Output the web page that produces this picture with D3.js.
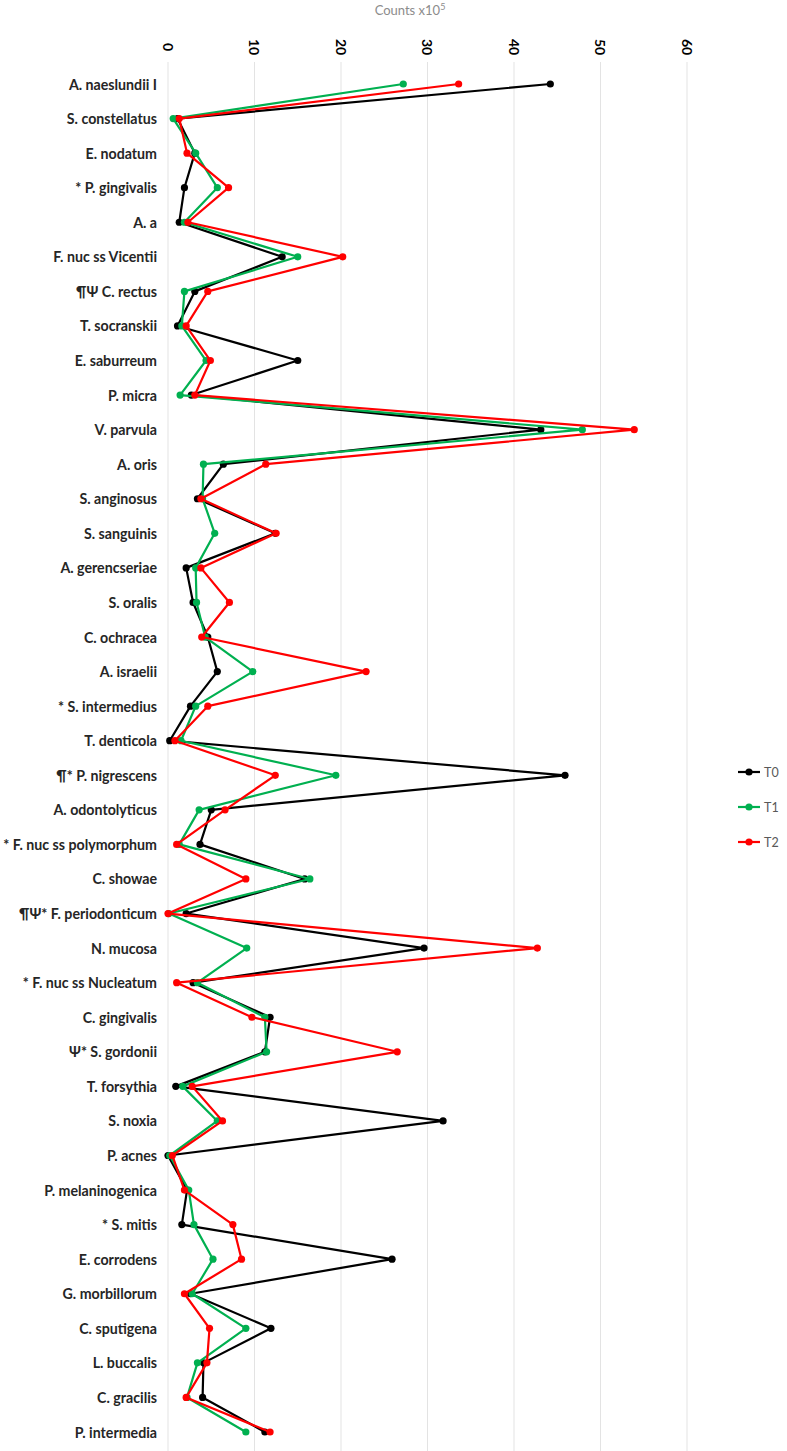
<!DOCTYPE html>
<html><head><meta charset="utf-8">
<script src="https://cdn.jsdelivr.net/npm/d3@7"></script>
<style>body{margin:0;background:#fff}</style>
</head><body>
<svg id="c" width="787" height="1451"></svg>
<script>
const categories = ["A. naeslundii I","S. constellatus","E. nodatum","* P. gingivalis","A. a","F. nuc ss Vicentii","¶Ψ C. rectus","T. socranskii","E. saburreum","P. micra","V. parvula","A. oris","S. anginosus","S. sanguinis","A. gerencseriae","S. oralis","C. ochracea","A. israelii","* S. intermedius","T. denticola","¶* P. nigrescens","A. odontolyticus","* F. nuc ss polymorphum","C. showae","¶Ψ* F. periodonticum","N. mucosa","* F. nuc ss Nucleatum","C. gingivalis","Ψ* S. gordonii","T. forsythia","S. noxia","P. acnes","P. melaninogenica","* S. mitis","E. corrodens","G. morbillorum","C. sputigena","L. buccalis","C. gracilis","P. intermedia"];
const T0 = [44.2,1.1,3.1,1.9,1.3,13.2,3.1,1.1,15.0,2.7,43.1,6.4,3.4,12.4,2.1,2.9,4.6,5.7,2.6,0.2,45.9,5.0,3.7,15.8,2.1,29.6,2.9,11.8,11.2,0.9,31.8,0.0,2.2,1.6,25.9,2.6,11.9,4.1,4.0,11.2];
const T1 = [27.2,0.6,3.2,5.7,1.9,15.0,1.9,1.6,4.4,1.4,47.9,4.1,4.0,5.4,3.2,3.3,4.3,9.8,3.2,1.5,19.4,3.6,1.3,16.4,0.1,9.1,3.4,11.2,11.4,1.7,5.7,0.2,2.4,3.0,5.2,2.8,9.0,3.4,2.2,9.0];
const T2 = [33.6,1.3,2.2,7.0,2.3,20.2,4.6,2.1,4.9,3.1,53.9,11.3,3.8,12.5,3.8,7.1,3.9,22.9,4.6,0.8,12.4,6.6,1.0,9.0,0.0,42.7,1.0,9.7,26.5,2.8,6.3,0.5,1.9,7.5,8.5,1.9,4.8,4.5,2.1,11.8];
const seriesNames = ["T0","T1","T2"];
const seriesColors = ["#000000","#00b050","#ff0000"];
const xTicks = [0,10,20,30,40,50,60];
const axisTitle = "Counts x10";

const svg = d3.select("#c");
const x = d3.scaleLinear().domain([0,60]).range([168,687]);
const y = d3.scalePoint().domain(categories).range([84,1432]);
const FONT = "Lato, 'Open Sans', sans-serif";

svg.append("g").selectAll("line").data(xTicks).join("line")
  .attr("x1",d=>x(d)).attr("x2",d=>x(d)).attr("y1",62).attr("y2",1451)
  .attr("stroke","#e3e3e3").attr("stroke-width",1);

svg.append("g").selectAll("text").data(xTicks).join("text")
  .attr("transform",d=>`translate(${x(d)},47) rotate(90)`)
  .attr("text-anchor","middle").attr("dominant-baseline","central")
  .attr("font-family",FONT).attr("font-weight","bold").attr("font-size",14)
  .attr("fill","#000").text(d=>d);

const t = svg.append("text").attr("x",410).attr("y",15).attr("text-anchor","middle")
  .attr("font-family",FONT).attr("font-size",13).attr("fill","#8c8c8c").text(axisTitle);
t.append("tspan").attr("dy",-5).attr("font-size",9).text("5");

svg.append("g").selectAll("text").data(categories).join("text")
  .attr("x",157).attr("y",d=>y(d)).attr("text-anchor","end").attr("dominant-baseline","central")
  .attr("font-family",FONT).attr("font-weight","bold").attr("font-size",14.2)
  .attr("fill","#262626").text(d=>d);

const data = [T0,T1,T2];
const line = d3.line().x(d=>x(d.v)).y(d=>y(d.c));
data.forEach((vals,i)=>{
  const pts = vals.map((v,j)=>({v,c:categories[j]}));
  const g = svg.append("g");
  g.append("path").datum(pts).attr("d",line).attr("fill","none")
    .attr("stroke",seriesColors[i]).attr("stroke-width",2.2).attr("stroke-linejoin","round");
  g.selectAll("circle").data(pts).join("circle")
    .attr("cx",d=>x(d.v)).attr("cy",d=>y(d.c)).attr("r",3.6).attr("fill",seriesColors[i]);
});

const lg = svg.append("g").selectAll("g").data(seriesNames).join("g")
  .attr("transform",(d,i)=>`translate(738,${772+i*35})`);
lg.append("line").attr("x1",0).attr("x2",22).attr("y1",0).attr("y2",0)
  .attr("stroke",(d,i)=>seriesColors[i]).attr("stroke-width",2.2);
lg.append("circle").attr("cx",11).attr("cy",0).attr("r",3.6).attr("fill",(d,i)=>seriesColors[i]);
lg.append("text").attr("x",26).attr("y",0).attr("dominant-baseline","central")
  .attr("font-family",FONT).attr("font-size",12.5).attr("fill","#595959").text(d=>d);
</script>
</body></html>
